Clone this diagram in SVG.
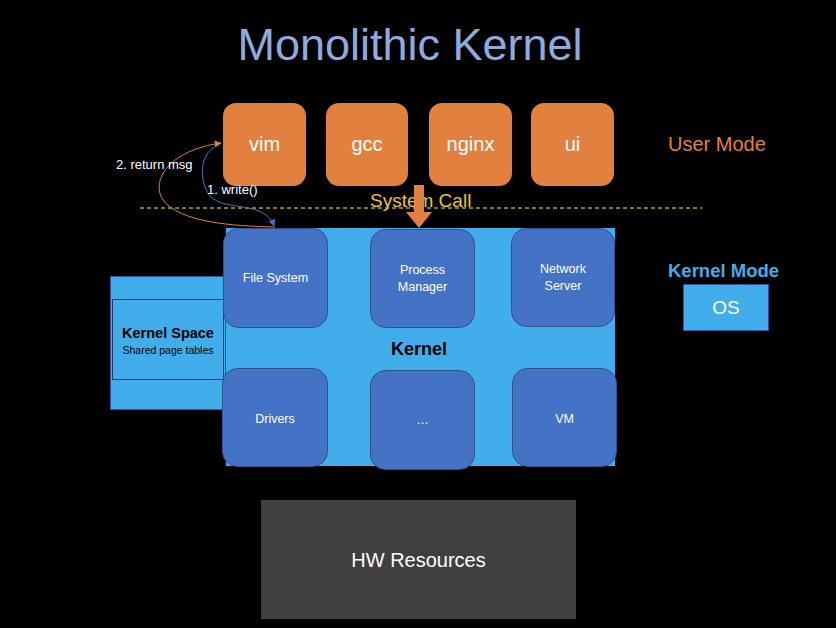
<svg xmlns="http://www.w3.org/2000/svg" width="836" height="628" viewBox="0 0 836 628">
<defs>
<style>
text{font-family:"Liberation Sans","Open Sans",sans-serif;}
.user rect{fill:#E2803F;}
.user text{fill:#fff;font-size:20px;text-anchor:middle;}
.mod rect{fill:#4472C4;stroke:#2F528F;stroke-width:1;}
.mod text{fill:#fff;font-size:12.5px;text-anchor:middle;}
.lbl{fill:#fff;font-size:13px;}
</style>
<marker id="ao" viewBox="0 0 10 10" refX="9" refY="5" markerWidth="7" markerHeight="7" orient="auto"><path d="M0,0 L10,5 L0,10 z" fill="#E2803F"/></marker>
<marker id="ab" viewBox="0 0 10 10" refX="9" refY="5" markerWidth="7" markerHeight="7" orient="auto"><path d="M0,0 L10,5 L0,10 z" fill="#4472C4"/></marker>
</defs>
<rect width="836" height="628" fill="#000"/>
<text x="410" y="60" font-size="45" fill="#8FAADC" text-anchor="middle">Monolithic Kernel</text>

<g id="vim" class="user"><rect x="223" y="103" width="83" height="83" rx="13"/><text x="264.5" y="151">vim</text></g>
<g id="gcc" class="user"><rect x="326" y="103" width="82" height="83" rx="13"/><text x="367" y="151">gcc</text></g>
<g id="nginx" class="user"><rect x="429" y="103" width="83" height="83" rx="13"/><text x="470.5" y="151">nginx</text></g>
<g id="ui" class="user"><rect x="531" y="103" width="83" height="83" rx="13"/><text x="572.5" y="151">ui</text></g>

<text x="668" y="151" font-size="20" fill="#E2803F">User Mode</text>

<line x1="140" y1="208" x2="702" y2="208" stroke="#FFFF00" stroke-width="1.2" stroke-dasharray="4,3"/>
<text x="370" y="207" font-size="19" fill="#F2C12E">System Call</text>

<g id="kernel">
<rect x="226" y="228" width="389" height="238" fill="#41AEEB"/>
<text x="419" y="355" font-size="18" font-weight="bold" fill="#000" text-anchor="middle">Kernel</text>
</g>

<g id="kernelspace">
<rect x="110.5" y="276.5" width="115" height="133" fill="#41AEEB" stroke="#2F5597"/>
<rect x="112.5" y="299.5" width="111" height="80" fill="none" stroke="#1F3864"/>
<text x="168" y="338" font-size="14.5" font-weight="bold" fill="#000" text-anchor="middle">Kernel Space</text>
<text x="168" y="354" font-size="10.5" fill="#000" text-anchor="middle">Shared page tables</text>
</g>

<g id="filesystem" class="mod"><rect x="223.5" y="228.5" width="104" height="99" rx="15"/><text x="275.5" y="282">File System</text></g>
<g id="process" class="mod"><rect x="370.5" y="229.5" width="104" height="98" rx="15"/><text x="422.5" y="274">Process</text><text x="422.5" y="291">Manager</text></g>
<g id="network" class="mod"><rect x="511.5" y="228.5" width="103" height="98" rx="15"/><text x="563" y="273">Network</text><text x="563" y="290">Server</text></g>
<g id="drivers" class="mod"><rect x="222.5" y="368.5" width="105" height="98" rx="15"/><text x="275" y="423">Drivers</text></g>
<g id="dots" class="mod"><rect x="370.5" y="370.5" width="104" height="99" rx="15"/><text x="422.5" y="424">…</text></g>
<g id="vm" class="mod"><rect x="512.5" y="368.5" width="104" height="98" rx="15"/><text x="564.5" y="423">VM</text></g>

<g id="kernelmode">
<text x="668" y="277" font-size="18.5" font-weight="bold" fill="#41AEEB">Kernel Mode</text>
<rect x="683.5" y="284.5" width="85" height="46" fill="#41AEEB" stroke="#2F5597"/>
<text x="726" y="314" font-size="19" fill="#fff" text-anchor="middle">OS</text>
</g>

<g id="hw">
<rect x="261" y="500" width="315" height="119" fill="#404040"/>
<text x="418.5" y="567" font-size="20" fill="#fff" text-anchor="middle">HW Resources</text>
</g>

<g id="connectors">
<path d="M419,185 V212" stroke="#E2803F" stroke-width="10" fill="none"/>
<path d="M406,212 L432,212 L419,228 z" fill="#E2803F"/>
<path d="M275,227 C230,226 180,222 163,200 C150,180 170,150 221,143" fill="none" stroke="#E2803F" stroke-width="1" marker-end="url(#ao)"/>
<path d="M217,146 C200,152 198,180 210,196 C225,212 265,200 274,226" fill="none" stroke="#4472C4" stroke-width="1" marker-end="url(#ab)"/>
</g>

<text class="lbl" x="116" y="169">2. return msg</text>
<text class="lbl" x="207" y="194">1. write()</text>
</svg>
